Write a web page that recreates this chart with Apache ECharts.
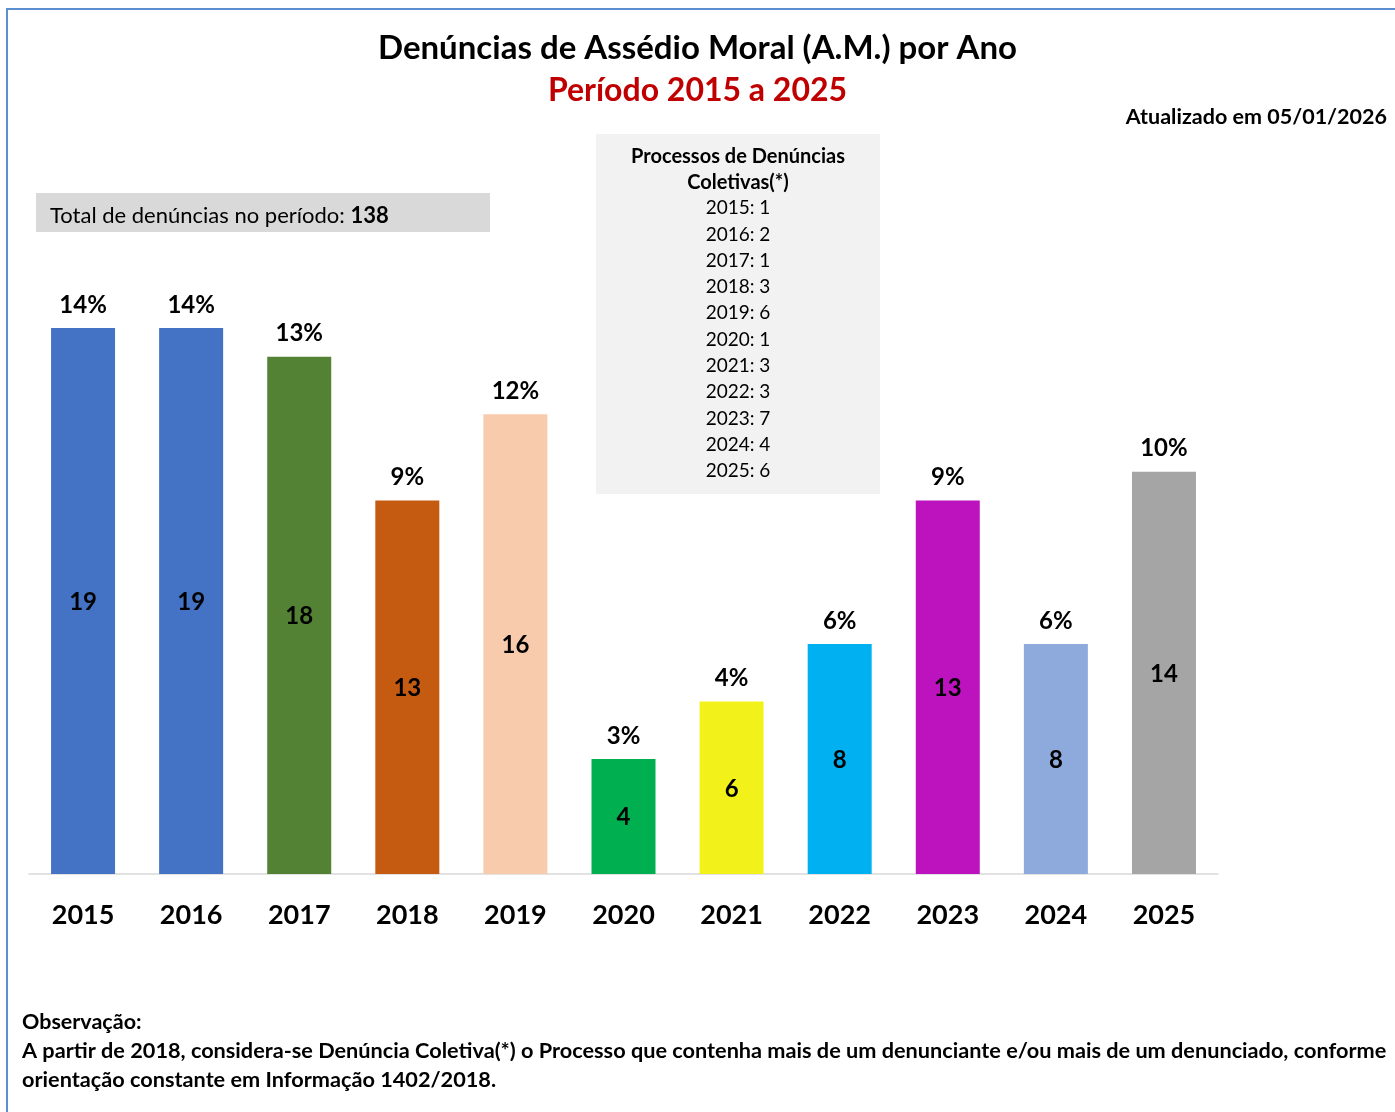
<!DOCTYPE html>
<html><head><meta charset="utf-8">
<script src="https://cdn.jsdelivr.net/npm/echarts@6/dist/echarts.min.js"></script>
<style>html,body{margin:0;padding:0;background:#fff}#c{width:1395px;height:1112px}</style>
</head><body><div id="c"></div>
<script>
const years = ['2015','2016','2017','2018','2019','2020','2021','2022','2023','2024','2025'];
const counts = [19,19,18,13,16,4,6,8,13,8,14];
const percentLabels = ['14%','14%','13%','9%','12%','3%','4%','6%','9%','6%','10%'];
const barColors = ['#4472C4','#4472C4','#548235','#C55A11','#F8CBAD','#00B050','#F2F21A','#00B0F0','#BC13BF','#8EA9DB','#A5A5A5'];
const collective = [1,2,1,3,6,1,3,3,7,4,6];
const totalCount = 138;

const FONT = 'Lato';
const chart = echarts.init(document.getElementById('c'));

const listLines = years.map((y,i)=> y + ': ' + collective[i]);

const graphic = [
  {type:'rect', shape:{x:7,y:9,width:1395,height:1110}, style:{fill:'none',stroke:'#5B8FD0',lineWidth:2}, silent:true},
  {type:'text', left:'center', top:32, style:{text:'Denúncias de Assédio Moral (A.M.) por Ano', font:'bold 33px '+FONT, fill:'#000'}},
  {type:'text', left:'center', top:75, style:{text:'Período 2015 a 2025', font:'bold 32px '+FONT, fill:'#C00000'}},
  {type:'text', right:8, top:106, style:{text:'Atualizado em 05/01/2026', font:'bold 21.5px '+FONT, fill:'#000'}},
  {type:'rect', shape:{x:36,y:193,width:454,height:39}, style:{fill:'#D9D9D9'}},
  {type:'text', x:50, y:205, style:{rich:{n:{font:'22px '+FONT,fill:'#000'},b:{font:'bold 22px '+FONT,fill:'#000'}}, text:'{n|Total de denúncias no período: }{b|'+totalCount+'}'}},
  {type:'rect', shape:{x:596,y:134,width:284,height:360}, style:{fill:'#F2F2F2'}},
  {type:'text', x:738, y:143, style:{text:'Processos de Denúncias\nColetivas(*)', font:'bold 20px '+FONT, fill:'#000', align:'center', lineHeight:26.3}},
  {type:'text', x:738, y:195, style:{text:listLines.join('\n'), font:'19px '+FONT, fill:'#000', align:'center', lineHeight:26.3}},
  {type:'text', x:22, y:1011, style:{text:'Observação:', font:'bold 21.5px '+FONT, fill:'#000'}},
  {type:'text', x:22, y:1037, style:{text:'A partir de 2018, considera-se Denúncia Coletiva(*) o Processo que contenha mais de um denunciante e/ou mais de um denunciado, conforme\norientação constante em Informação 1402/2018.', font:'bold 21.7px '+FONT, fill:'#000', lineHeight:29}}
];

chart.setOption({
  animation:false,
  grid:{left:29,right:177,top:328,bottom:238,containLabel:false},
  xAxis:{type:'category',data:years,
    axisLine:{lineStyle:{color:'#D9D9D9',width:1.5}},axisTick:{show:false},
    axisLabel:{margin:28,fontFamily:FONT,fontWeight:'bold',fontSize:27,color:'#000'}},
  yAxis:{type:'value',min:0,max:19,show:false,splitLine:{show:false}},
  series:[
    {type:'bar',barWidth:64,data:counts.map((v,i)=>({value:v,itemStyle:{color:barColors[i]}})),
      label:{show:true,position:'inside',offset:[0,1],fontFamily:FONT,fontWeight:'bold',fontSize:24,color:'#000'}},
    {type:'bar',barWidth:64,barGap:'-100%',silent:true,
      data:counts.map((v,i)=>({value:v,itemStyle:{color:'transparent'}})),
      label:{show:true,position:'top',distance:11,fontFamily:FONT,fontWeight:'bold',fontSize:24,color:'#000',
        formatter:p=>percentLabels[p.dataIndex]}}
  ],
  graphic:graphic
});
</script></body></html>
